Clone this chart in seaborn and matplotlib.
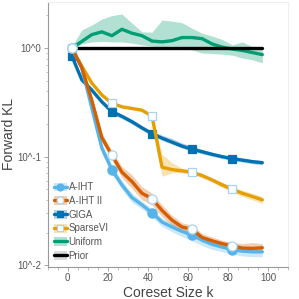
import matplotlib
matplotlib.use("Agg")
import matplotlib.pyplot as plt
from matplotlib.lines import Line2D
from matplotlib.patches import Patch
from matplotlib.ticker import FixedLocator, LogLocator, MultipleLocator, NullFormatter
import seaborn as sns

# --------------------------
# Dados
# --------------------------
k = [2, 7, 12, 17, 22, 27, 32, 37, 42, 47, 52, 57, 62, 67, 72, 77, 82, 87, 92, 97]

aiht = [1.0, 0.66, 0.28, 0.12, 0.076, 0.055, 0.042, 0.036, 0.0305, 0.025,
        0.0225, 0.0205, 0.019, 0.017, 0.0156, 0.0147, 0.0139, 0.0135, 0.0133, 0.0133]
aiht_lo = [0.97, 0.60, 0.25, 0.108, 0.069, 0.050, 0.038, 0.033, 0.028, 0.0228,
           0.0203, 0.0184, 0.0168, 0.0152, 0.0140, 0.0133, 0.0126, 0.0122, 0.0120, 0.0120]
aiht_hi = [1.03, 0.72, 0.31, 0.132, 0.083, 0.060, 0.046, 0.039, 0.033, 0.0272,
           0.0245, 0.0222, 0.0205, 0.0184, 0.0168, 0.0158, 0.0150, 0.0145, 0.0143, 0.0143]

aiht2 = [1.0, 0.66, 0.33, 0.15, 0.103, 0.072, 0.059, 0.046, 0.041, 0.032,
         0.026, 0.0225, 0.0214, 0.018, 0.0168, 0.0158, 0.0151, 0.0144, 0.0143, 0.0145]
aiht2_lo = [0.97, 0.61, 0.30, 0.136, 0.094, 0.064, 0.051, 0.040, 0.036, 0.028,
            0.0235, 0.0205, 0.0195, 0.0165, 0.0155, 0.0147, 0.0140, 0.0133, 0.0132, 0.0136]
aiht2_hi = [1.03, 0.71, 0.36, 0.165, 0.113, 0.081, 0.068, 0.053, 0.046, 0.036,
            0.0288, 0.0246, 0.0234, 0.0196, 0.0182, 0.0170, 0.0163, 0.0158, 0.0162, 0.0158]

giga = [0.85, 0.51, 0.41, 0.32, 0.26, 0.235, 0.21, 0.184, 0.163, 0.148,
        0.136, 0.125, 0.117, 0.111, 0.105, 0.100, 0.096, 0.093, 0.090, 0.088]
giga_lo = [0.82, 0.485, 0.39, 0.305, 0.248, 0.224, 0.20, 0.176, 0.156, 0.141,
           0.130, 0.120, 0.112, 0.106, 0.101, 0.096, 0.092, 0.089, 0.086, 0.084]
giga_hi = [0.88, 0.535, 0.43, 0.335, 0.272, 0.246, 0.22, 0.193, 0.171, 0.158,
           0.147, 0.134, 0.124, 0.117, 0.110, 0.104, 0.100, 0.097, 0.094, 0.092]

sparsevi = [1.0, 0.68, 0.476, 0.37, 0.31, 0.288, 0.278, 0.268, 0.236, 0.080,
            0.076, 0.074, 0.072, 0.067, 0.061, 0.055, 0.050, 0.046, 0.043, 0.040]
sparsevi_lo = [0.98, 0.66, 0.462, 0.36, 0.301, 0.28, 0.27, 0.26, 0.229, 0.066,
               0.071, 0.071, 0.069, 0.064, 0.058, 0.052, 0.047, 0.043, 0.040, 0.037]
sparsevi_hi = [1.02, 0.70, 0.49, 0.38, 0.319, 0.296, 0.286, 0.276, 0.243, 0.105,
               0.088, 0.078, 0.075, 0.070, 0.064, 0.058, 0.053, 0.049, 0.046, 0.043]

uniform = [1.0, 1.15, 1.33, 1.41, 1.30, 1.49, 1.37, 1.30, 1.16, 1.14,
           1.17, 1.25, 1.25, 1.22, 1.09, 1.02, 0.98, 0.95, 0.91, 0.87]
uniform_lo = [0.97, 1.09, 1.14, 1.15, 1.14, 1.14, 1.11, 1.07, 1.04, 1.03,
              1.04, 1.02, 0.96, 0.90, 0.89, 0.88, 0.86, 0.81, 0.78, 0.73]
uniform_hi = [1.03, 1.47, 1.63, 1.85, 1.99, 2.06, 1.70, 1.41, 1.40, 1.81,
              1.77, 1.71, 1.52, 1.37, 1.29, 1.20, 1.07, 1.14, 1.03, 0.99]

prior = [1.0, 1.0, 1.0, 1.0, 1.0, 1.0, 1.0, 1.0, 1.0, 1.0,
         1.0, 1.0, 1.0, 1.0, 1.0, 1.0, 1.0, 1.0, 1.0, 1.0]
prior_lo = [0.995, 0.995, 0.995, 0.995, 0.995, 0.995, 0.995, 0.995, 0.995, 0.995,
            0.995, 0.995, 0.995, 0.995, 0.995, 0.995, 0.995, 0.995, 0.995, 0.995]
prior_hi = [1.005, 1.005, 1.005, 1.005, 1.005, 1.005, 1.005, 1.005, 1.005, 1.005,
            1.005, 1.005, 1.005, 1.005, 1.005, 1.005, 1.005, 1.005, 1.005, 1.005]

yticks = [1.0, 0.1, 0.01]
yticklabels = ["10^0", "10^-1", "10^-2"]
xticks = [0, 20, 40, 60, 80, 100]

# --------------------------
# Estilo
# --------------------------
sns.set_style("ticks")
plt.rcParams["font.family"] = ["Liberation Sans", "DejaVu Sans"]

borda_azul = "#a9d3f0"
series = [
    # nome, valores, lo, hi, cor, marcador, face do marcador, cor da borda
    ("Uniform", uniform, uniform_lo, uniform_hi, "#009E73", None, None, None),
    ("Prior", prior, prior_lo, prior_hi, "#000000", None, None, None),
    ("GIGA", giga, giga_lo, giga_hi, "#0072B2", "s", "#0072B2", "#0072B2"),
    ("SparseVI", sparsevi, sparsevi_lo, sparsevi_hi, "#E69F00", "s", "white", borda_azul),
    ("A-IHT", aiht, aiht_lo, aiht_hi, "#56B4E9", "o", "#56B4E9", "#56B4E9"),
    ("A-IHT II", aiht2, aiht2_lo, aiht2_hi, "#D55E00", "o", "white", borda_azul),
]
band_color = {"Prior": "#888888"}

fig = plt.figure(figsize=(2.99, 2.99), dpi=100)
ax = fig.add_axes([0.1595, 0.108, 0.805, 0.885])

handles = {}
for nome, vals, lo, hi, cor, marc, face, borda in series:
    bc = band_color.get(nome, cor)
    ax.fill_between(k, lo, hi, color=bc, alpha=0.3, lw=0)
    kws = dict(color=cor, lw=2.4)
    if marc is not None:
        kws.update(marker=marc, markevery=4, markersize=6.6 if marc == "o" else 5.8,
                   markerfacecolor=face, markeredgecolor=borda, markeredgewidth=0.9)
    sns.lineplot(x=k, y=vals, ax=ax, errorbar=None, **kws)
    lh = Line2D([], [], color=cor, lw=2.4,
                marker=marc if marc else None, markersize=5,
                markerfacecolor=face if face else cor,
                markeredgecolor=borda if borda else cor, markeredgewidth=0.8)
    handles[nome] = (Patch(facecolor=bc, alpha=0.3, lw=0), lh)

ax.set_yscale("log")
ax.set_xlim(-10, 110)
ax.set_ylim(0.0097, 2.65)

ax.yaxis.set_major_locator(FixedLocator(yticks))
ax.set_yticklabels(yticklabels)
ax.yaxis.set_minor_locator(LogLocator(base=10, subs=range(2, 10)))
ax.yaxis.set_minor_formatter(NullFormatter())
ax.set_xticks(xticks)
ax.xaxis.set_minor_locator(MultipleLocator(5))

ax.set_xlabel("Coreset Size k", fontsize=10, color="#444444", labelpad=2)
ax.set_ylabel("Forward KL", fontsize=10, color="#444444", labelpad=1)

ax.tick_params(which="major", length=3, width=0.6, color="#999999",
               labelsize=7, labelcolor="#555555", pad=1.5)
ax.tick_params(which="minor", length=1.8, width=0.5, color="#aaaaaa")

for lado in ["left", "bottom"]:
    ax.spines[lado].set_color("#999999")
    ax.spines[lado].set_linewidth(0.8)
for lado in ["top", "right"]:
    ax.spines[lado].set_visible(True)
    ax.spines[lado].set_color("#eeeeee")
    ax.spines[lado].set_linewidth(0.8)

ordem = ["A-IHT", "A-IHT II", "GIGA", "SparseVI", "Uniform", "Prior"]
ax.legend([handles[n] for n in ordem], ordem, loc="lower left",
          frameon=False, fontsize=7, handlelength=1.35, handleheight=1.0,
          handletextpad=0.2, labelspacing=0.38, borderaxespad=0.2,
          borderpad=0.4, labelcolor="#555555")

fig.savefig("out.png", dpi=100)
print("Salvo: out.png")
